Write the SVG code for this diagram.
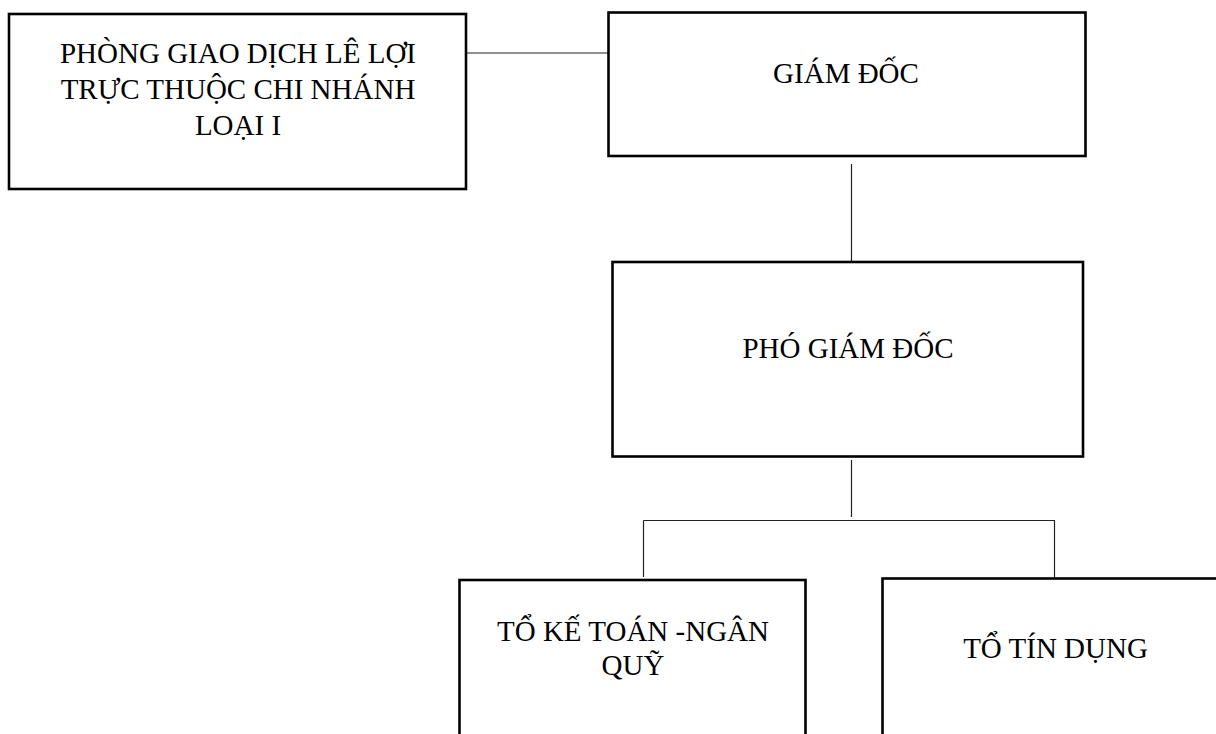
<svg xmlns="http://www.w3.org/2000/svg" width="1216" height="734" viewBox="0 0 1216 734">
<style>
.box{fill:#fff;stroke:#000;stroke-width:2.6}
.lbl{font-family:"Liberation Serif","Times New Roman",serif;font-size:29px;fill:#000;text-anchor:middle}
.con{stroke:#222;stroke-width:1.2;fill:none}
</style>
<rect x="0" y="0" width="1216" height="734" fill="#fff"/>
<g id="connectors">
<line class="con" x1="466" y1="53" x2="608" y2="53"/>
<line class="con" x1="851.5" y1="164" x2="851.5" y2="262"/>
<line class="con" x1="851.5" y1="460" x2="851.5" y2="517"/>
<line class="con" x1="643.5" y1="520.5" x2="1055" y2="520.5"/>
<line class="con" x1="643.5" y1="520.5" x2="643.5" y2="577"/>
<line class="con" x1="1054.5" y1="521" x2="1054.5" y2="580"/>
</g>
<g id="node-pgd">
<rect class="box" x="9" y="14" width="457" height="175"/>
<text class="lbl" x="238" y="63">PHÒNG GIAO DỊCH LÊ LỢI</text>
<text class="lbl" x="238" y="99">TRỰC THUỘC CHI NHÁNH</text>
<text class="lbl" x="238" y="135">LOẠI I</text>
</g>
<g id="node-gd">
<rect class="box" x="608.5" y="12.5" width="477" height="143.5"/>
<text class="lbl" x="846" y="82.5">GIÁM ĐỐC</text>
</g>
<g id="node-pgd2">
<rect class="box" x="612.5" y="262" width="470.5" height="194.5"/>
<text class="lbl" x="848" y="358">PHÓ GIÁM ĐỐC</text>
</g>
<g id="node-ktnq">
<rect class="box" x="459.5" y="580" width="346" height="170"/>
<text class="lbl" x="633" y="640.5">TỔ KẾ TOÁN -NGÂN</text>
<text class="lbl" x="633" y="675">QUỸ</text>
</g>
<g id="node-td">
<rect class="box" x="882.5" y="578.5" width="360" height="170"/>
<text class="lbl" x="1055.5" y="658">TỔ TÍN DỤNG</text>
</g>
</svg>
